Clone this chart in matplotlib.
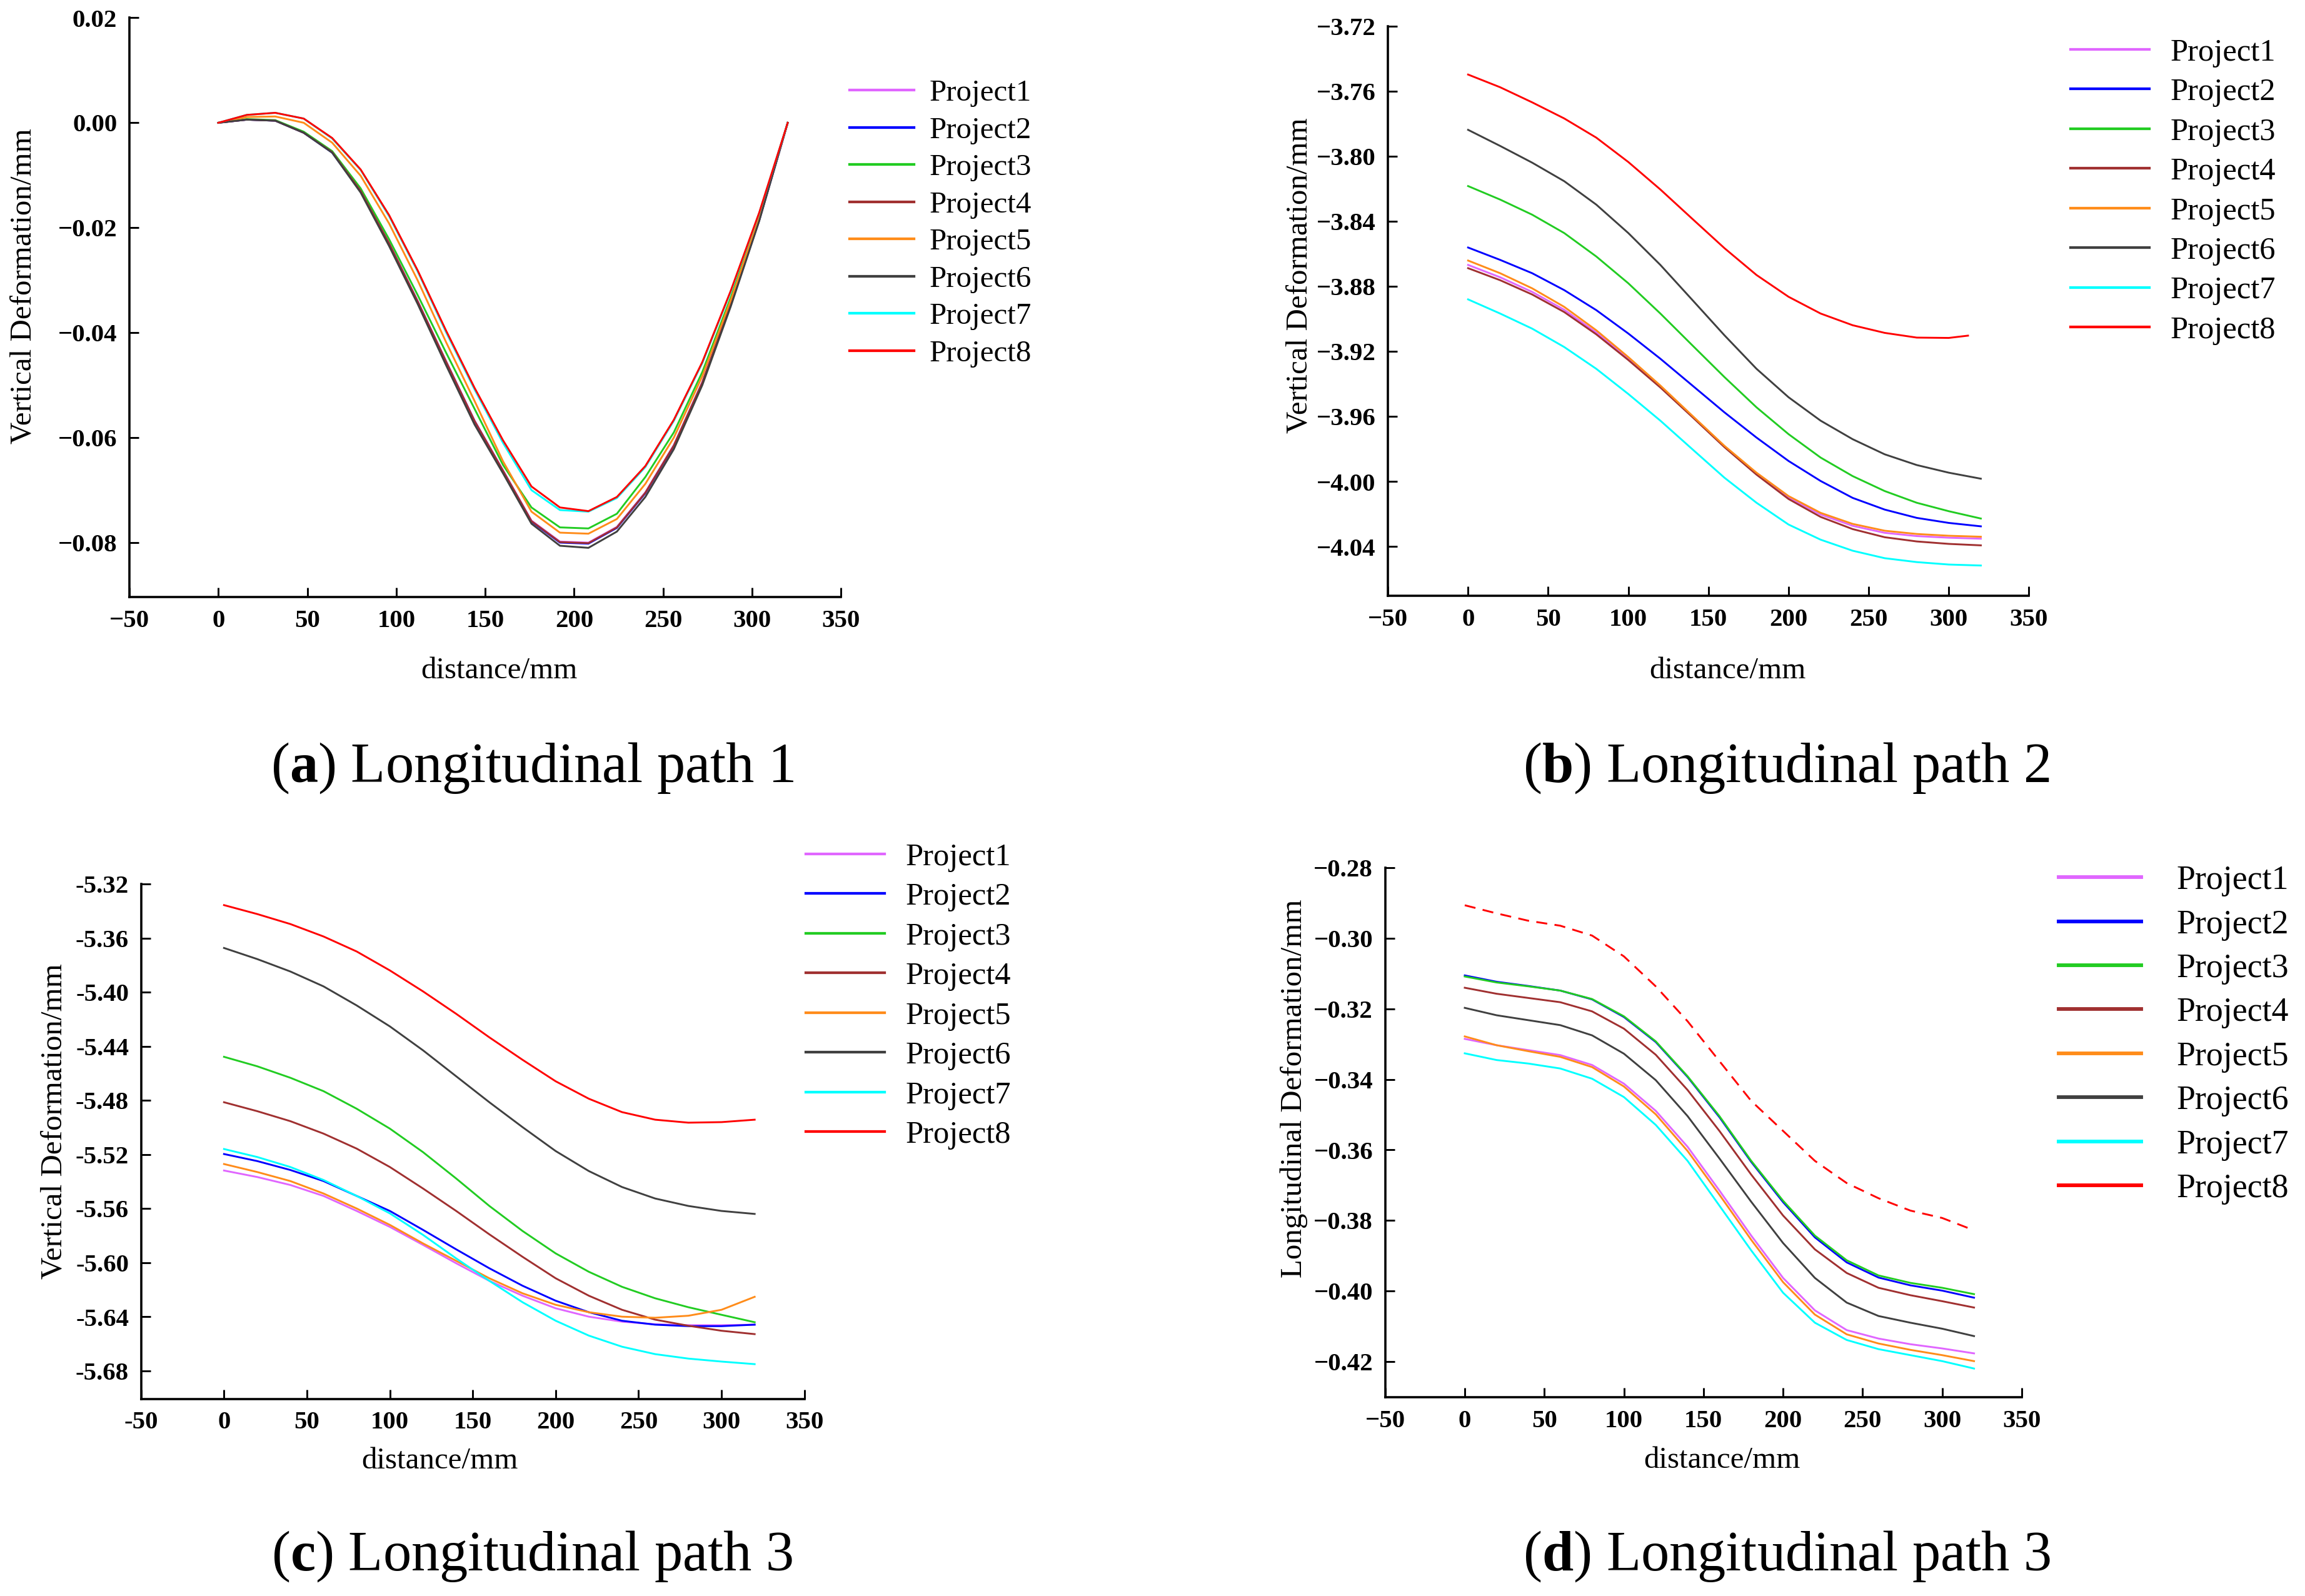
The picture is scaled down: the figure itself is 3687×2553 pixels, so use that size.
import matplotlib
matplotlib.use("Agg")
import matplotlib.pyplot as plt
from matplotlib.lines import Line2D
from matplotlib.ticker import FuncFormatter

# --- fonts ---
plt.rcParams['font.family'] = ['Liberation Serif', 'DejaVu Serif']
plt.rcParams['mathtext.fontset'] = 'custom'
plt.rcParams['mathtext.rm'] = 'Liberation Serif'
plt.rcParams['mathtext.bf'] = 'Liberation Serif:bold'

# --- common ---
names = ["Project1", "Project2", "Project3", "Project4",
         "Project5", "Project6", "Project7", "Project8"]
colors = ["#E066FF", "#0000FF", "#22CC22", "#A03030",
          "#FF8C1A", "#404040", "#00FFFF", "#FF0000"]

# --- (a) Longitudinal path 1, vertical deformation ---
x_a = [0, 16, 32, 48, 64, 80, 96, 112, 128, 144, 160,
       176, 192, 208, 224, 240, 256, 272, 288, 304, 320]
a_p1 = [0, 0.0006, 0.0004, -0.0019, -0.0056, -0.0130, -0.0229, -0.0339, -0.0454, -0.0567, -0.0662,
        -0.0758, -0.0798, -0.0800, -0.0770, -0.0704, -0.0614, -0.0494, -0.0345, -0.0184, 0]
a_p2 = [0, 0.0006, 0.0004, -0.0019, -0.0057, -0.0131, -0.0231, -0.0341, -0.0456, -0.0569, -0.0664,
        -0.0760, -0.0800, -0.0802, -0.0772, -0.0706, -0.0616, -0.0496, -0.0347, -0.0186, 0]
a_p3 = [0, 0.0007, 0.0005, -0.0017, -0.0054, -0.0125, -0.0222, -0.0328, -0.0438, -0.0545, -0.0652,
        -0.0733, -0.0771, -0.0773, -0.0745, -0.0675, -0.0590, -0.0475, -0.0333, -0.0178, 0]
a_p4 = [0, 0.0006, 0.0004, -0.0019, -0.0056, -0.0130, -0.0230, -0.0340, -0.0455, -0.0568, -0.0663,
        -0.0759, -0.0799, -0.0801, -0.0771, -0.0705, -0.0615, -0.0495, -0.0346, -0.0185, 0]
a_p5 = [0, 0.0011, 0.0012, 0.0000, -0.0038, -0.0101, -0.0192, -0.0300, -0.0418, -0.0530, -0.0645,
        -0.0741, -0.0781, -0.0783, -0.0755, -0.0688, -0.0600, -0.0483, -0.0338, -0.0180, 0]
a_p6 = [0, 0.0006, 0.0004, -0.0019, -0.0057, -0.0133, -0.0235, -0.0345, -0.0462, -0.0575, -0.0668,
        -0.0764, -0.0806, -0.0810, -0.0779, -0.0713, -0.0622, -0.0500, -0.0350, -0.0187, 0]
a_p7 = [0, 0.0015, 0.0019, 0.0008, -0.0030, -0.0090, -0.0178, -0.0283, -0.0399, -0.0508, -0.0610,
        -0.0700, -0.0738, -0.0741, -0.0715, -0.0656, -0.0568, -0.0458, -0.0322, -0.0172, 0]
a_p8 = [0, 0.0015, 0.0019, 0.0008, -0.0029, -0.0089, -0.0176, -0.0281, -0.0396, -0.0505, -0.0605,
        -0.0693, -0.0733, -0.0740, -0.0713, -0.0654, -0.0566, -0.0456, -0.0320, -0.0171, 0]

# --- (b) Longitudinal path 2 ---
x_b = [0, 20, 40, 60, 80, 100, 120, 140, 160, 180, 200, 220, 240, 260, 280, 300, 320]
x_b8 = [0, 20, 40, 60, 80, 100, 120, 140, 160, 180, 200, 220, 240, 260, 280, 300, 312]
b_p1 = [-3.8667, -3.8743, -3.8833, -3.8943, -3.9083, -3.9244, -3.9415, -3.9599, -3.9784,
        -3.9951, -4.0097, -4.0202, -4.0272, -4.0315, -4.0335, -4.0345, -4.0351]
b_p2 = [-3.8560, -3.8636, -3.8718, -3.8822, -3.8945, -3.9089, -3.9244, -3.9409, -3.9574,
        -3.9729, -3.9873, -3.9996, -4.0100, -4.0172, -4.0223, -4.0254, -4.0275]
b_p3 = [-3.8182, -3.8265, -3.8358, -3.8471, -3.8615, -3.8780, -3.8966, -3.9162, -3.9357,
        -3.9543, -3.9708, -3.9852, -3.9966, -4.0058, -4.0130, -4.0182, -4.0227]
b_p4 = [-3.8687, -3.8761, -3.8849, -3.8957, -3.9094, -3.9252, -3.9421, -3.9603, -3.9788,
        -3.9957, -4.0107, -4.0217, -4.0292, -4.0342, -4.0368, -4.0383, -4.0392]
b_p5 = [-3.8640, -3.8718, -3.8811, -3.8925, -3.9069, -3.9234, -3.9409, -3.9595, -3.9780,
        -3.9945, -4.0089, -4.0192, -4.0260, -4.0302, -4.0322, -4.0333, -4.0339]
b_p6 = [-3.7836, -3.7935, -3.8038, -3.8152, -3.8296, -3.8471, -3.8667, -3.8883, -3.9100,
        -3.9306, -3.9481, -3.9625, -3.9739, -3.9832, -3.9898, -3.9945, -3.9982]
b_p7 = [-3.8879, -3.8966, -3.9059, -3.9172, -3.9306, -3.9461, -3.9625, -3.9801, -3.9976,
        -4.0130, -4.0264, -4.0357, -4.0425, -4.0471, -4.0495, -4.0510, -4.0516]
b_p8 = [-3.7496, -3.7574, -3.7667, -3.7766, -3.7884, -3.8034, -3.8203, -3.8384, -3.8564,
        -3.8729, -3.8863, -3.8966, -3.9038, -3.9085, -3.9114, -3.9116, -3.9102]

# --- (c) Longitudinal path 3, vertical ---
x_c = x_b
c_p1 = [-5.5318, -5.5366, -5.5425, -5.5506, -5.5617, -5.5735, -5.5868, -5.6004, -5.6134,
        -5.6244, -5.6337, -5.6399, -5.6436, -5.6455, -5.6462, -5.6462, -5.6458]
c_p2 = [-5.5196, -5.5248, -5.5314, -5.5396, -5.5506, -5.5617, -5.5757, -5.5901, -5.6041,
        -5.6170, -5.6281, -5.6366, -5.6429, -5.6458, -5.6469, -5.6469, -5.6458]
c_p3 = [-5.4477, -5.4547, -5.4632, -5.4731, -5.4861, -5.5008, -5.5182, -5.5377, -5.5580,
        -5.5765, -5.5931, -5.6067, -5.6178, -5.6263, -5.6329, -5.6385, -5.6440]
c_p4 = [-5.4813, -5.4879, -5.4953, -5.5045, -5.5156, -5.5292, -5.5451, -5.5617, -5.5790,
        -5.5956, -5.6115, -5.6244, -5.6348, -5.6421, -5.6466, -5.6503, -5.6528]
c_p5 = [-5.5270, -5.5329, -5.5396, -5.5488, -5.5599, -5.5720, -5.5857, -5.5986, -5.6115,
        -5.6226, -5.6311, -5.6366, -5.6399, -5.6407, -5.6392, -5.6348, -5.6252]
c_p6 = [-5.3672, -5.3754, -5.3846, -5.3956, -5.4097, -5.4252, -5.4429, -5.4621, -5.4813,
        -5.4997, -5.5174, -5.5322, -5.5440, -5.5525, -5.5580, -5.5617, -5.5639]
c_p7 = [-5.5159, -5.5218, -5.5292, -5.5388, -5.5506, -5.5635, -5.5794, -5.5968, -5.6134,
        -5.6292, -5.6429, -5.6539, -5.6621, -5.6676, -5.6709, -5.6731, -5.6750]
c_p8 = [-5.3355, -5.3421, -5.3495, -5.3587, -5.3698, -5.3838, -5.3993, -5.4159, -5.4333,
        -5.4499, -5.4658, -5.4787, -5.4886, -5.4942, -5.4964, -5.4960, -5.4942]

# --- (d) Longitudinal path 3, longitudinal ---
x_d = x_b
d_p1 = [-0.3285, -0.3303, -0.3317, -0.3331, -0.3359, -0.3412, -0.3489, -0.3591, -0.3715,
        -0.3843, -0.3963, -0.4055, -0.4111, -0.4135, -0.4151, -0.4163, -0.4177]
d_p2 = [-0.3105, -0.3123, -0.3135, -0.3148, -0.3173, -0.3223, -0.3294, -0.3393, -0.3507,
        -0.3634, -0.3748, -0.3848, -0.3919, -0.3962, -0.3984, -0.3999, -0.4019]
d_p3 = [-0.3108, -0.3125, -0.3136, -0.3148, -0.3172, -0.3221, -0.3292, -0.3391, -0.3504,
        -0.3631, -0.3744, -0.3843, -0.3913, -0.3956, -0.3977, -0.3991, -0.4009]
d_p4 = [-0.3140, -0.3157, -0.3169, -0.3181, -0.3207, -0.3256, -0.3330, -0.3430, -0.3546,
        -0.3670, -0.3786, -0.3882, -0.3949, -0.3991, -0.4012, -0.4029, -0.4047]
d_p5 = [-0.3278, -0.3303, -0.3320, -0.3336, -0.3365, -0.3420, -0.3499, -0.3603, -0.3727,
        -0.3855, -0.3975, -0.4067, -0.4123, -0.4149, -0.4167, -0.4182, -0.4199]
d_p6 = [-0.3197, -0.3218, -0.3232, -0.3246, -0.3275, -0.3327, -0.3402, -0.3504, -0.3624,
        -0.3747, -0.3864, -0.3963, -0.4033, -0.4071, -0.4090, -0.4107, -0.4128]
d_p7 = [-0.3326, -0.3345, -0.3355, -0.3369, -0.3398, -0.3450, -0.3529, -0.3631, -0.3758,
        -0.3885, -0.4005, -0.4090, -0.4139, -0.4165, -0.4182, -0.4199, -0.4220]
d_p8 = [-0.2906, -0.2929, -0.2950, -0.2964, -0.2992, -0.3051, -0.3136, -0.3235, -0.3348,
        -0.3461, -0.3546, -0.3631, -0.3694, -0.3737, -0.3772, -0.3793, -0.3828]

x_ticks = [-50, 0, 50, 100, 150, 200, 250, 300, 350]
yticks_a = [0.02, 0.00, -0.02, -0.04, -0.06, -0.08]
yticks_b = [-3.72, -3.76, -3.80, -3.84, -3.88, -3.92, -3.96, -4.00, -4.04]
yticks_c = [-5.32, -5.36, -5.40, -5.44, -5.48, -5.52, -5.56, -5.60, -5.64, -5.68]
yticks_d = [-0.28, -0.30, -0.32, -0.34, -0.36, -0.38, -0.40, -0.42]

fig = plt.figure(figsize=(15.68, 10.855), dpi=235.2)


def style_axes(ax, yticks, ylim, minus, ylabel, ylab_pos, xlab_pos):
    ax.set_xlim(-50, 350)
    ax.set_ylim(*ylim)
    ax.set_xticks(x_ticks)
    ax.set_yticks(yticks)
    ax.xaxis.set_major_formatter(FuncFormatter(
        lambda v, p: f"{v:.0f}".replace("-", minus)))
    ax.yaxis.set_major_formatter(FuncFormatter(
        lambda v, p: f"{0.0 if abs(v) < 1e-9 else v:.2f}".replace("-", minus)))
    for s in ("top", "right"):
        ax.spines[s].set_visible(False)
    for s in ("left", "bottom"):
        ax.spines[s].set_linewidth(1.1)
    ax.tick_params(direction="in", length=4.7, width=0.9, labelsize=12.5, pad=6)
    plt.setp(ax.get_xticklabels() + ax.get_yticklabels(), fontweight="bold")
    ax.set_ylabel(ylabel, fontsize=15, va="center")
    ax.yaxis.set_label_coords(*ylab_pos)
    ax.set_xlabel("distance/mm", fontsize=15, va="center")
    ax.xaxis.set_label_coords(*xlab_pos)


def add_legend(x, y, fs, spacing, lw, hlen, tpad):
    handles = [Line2D([], [], color=c, lw=lw) for c in colors]
    fig.legend(handles, names, loc="upper left", bbox_to_anchor=(x, y),
               frameon=False, fontsize=fs, handlelength=hlen, handletextpad=tpad,
               labelspacing=spacing, borderpad=0, borderaxespad=0)


# (a)
ax_a = fig.add_axes([0.0561, 0.6258, 0.3087, 0.3630])
for ys, c in zip([a_p1, a_p2, a_p3, a_p4, a_p5, a_p6, a_p7, a_p8], colors):
    ax_a.plot(x_a, ys, color=c, lw=0.9)
style_axes(ax_a, yticks_a, (-0.0904, 0.02), "\u2212", "Vertical Deformation/mm",
           (-0.149, 0.537), (0.52, -0.127))
add_legend(578 / 1568, 1 - 54 / 1085, 15, 0.31, 1.3, 2.1, 0.5)

# (b)
ax_b = fig.add_axes([0.6020, 0.6267, 0.2780, 0.3567])
for xs, ys, c in zip([x_b] * 7 + [x_b8],
                     [b_p1, b_p2, b_p3, b_p4, b_p5, b_p6, b_p7, b_p8], colors):
    ax_b.plot(xs, ys, color=c, lw=0.9)
style_axes(ax_b, yticks_b, (-4.0702, -3.72), "\u2212", "Vertical Deformation/mm",
           (-0.138, 0.563), (0.53, -0.132))
add_legend(1408 / 1568, 1 - 26 / 1085, 15.5, 0.335, 1.3, 2.5, 0.65)

# (c)
ax_c = fig.add_axes([0.0612, 0.1235, 0.2877, 0.3225])
for ys, c in zip([c_p1, c_p2, c_p3, c_p4, c_p5, c_p6, c_p7, c_p8], colors):
    ax_c.plot(x_c, ys, color=c, lw=0.9)
style_axes(ax_c, yticks_c, (-5.7007, -5.32), "-", "Vertical Deformation/mm",
           (-0.131, 0.54), (0.45, -0.12))
add_legend(548 / 1568, 1 - 573 / 1085, 15.5, 0.335, 1.3, 2.5, 0.65)

# (d)
ax_d = fig.add_axes([0.6008, 0.1244, 0.2761, 0.3318])
for ys, c in zip([d_p1, d_p2, d_p3, d_p4, d_p5, d_p6, d_p7], colors[:7]):
    ax_d.plot(x_d, ys, color=c, lw=0.9)
ax_d.plot(x_d, d_p8, color=colors[7], lw=0.9, dashes=(6, 4))
style_axes(ax_d, yticks_d, (-0.4302, -0.28), "\u2212", "Longitudinal Deformation/mm",
           (-0.143, 0.583), (0.529, -0.119))
add_legend(1400 / 1568, 1 - 588 / 1085, 16.5, 0.37, 1.8, 2.45, 1.05)

# captions
fig.text(362 / 1568, 1 - 522 / 1085, r"($\mathbf{a}$) Longitudinal path 1",
         ha="center", va="center", fontsize=27.7)
fig.text(1215 / 1568, 1 - 522 / 1085, r"($\mathbf{b}$) Longitudinal path 2",
         ha="center", va="center", fontsize=27.7)
fig.text(362 / 1568, 1 - 1058 / 1085, r"($\mathbf{c}$) Longitudinal path 3",
         ha="center", va="center", fontsize=27.7)
fig.text(1215 / 1568, 1 - 1058 / 1085, r"($\mathbf{d}$) Longitudinal path 3",
         ha="center", va="center", fontsize=27.7)

fig.savefig("out.png", dpi=235.2)
